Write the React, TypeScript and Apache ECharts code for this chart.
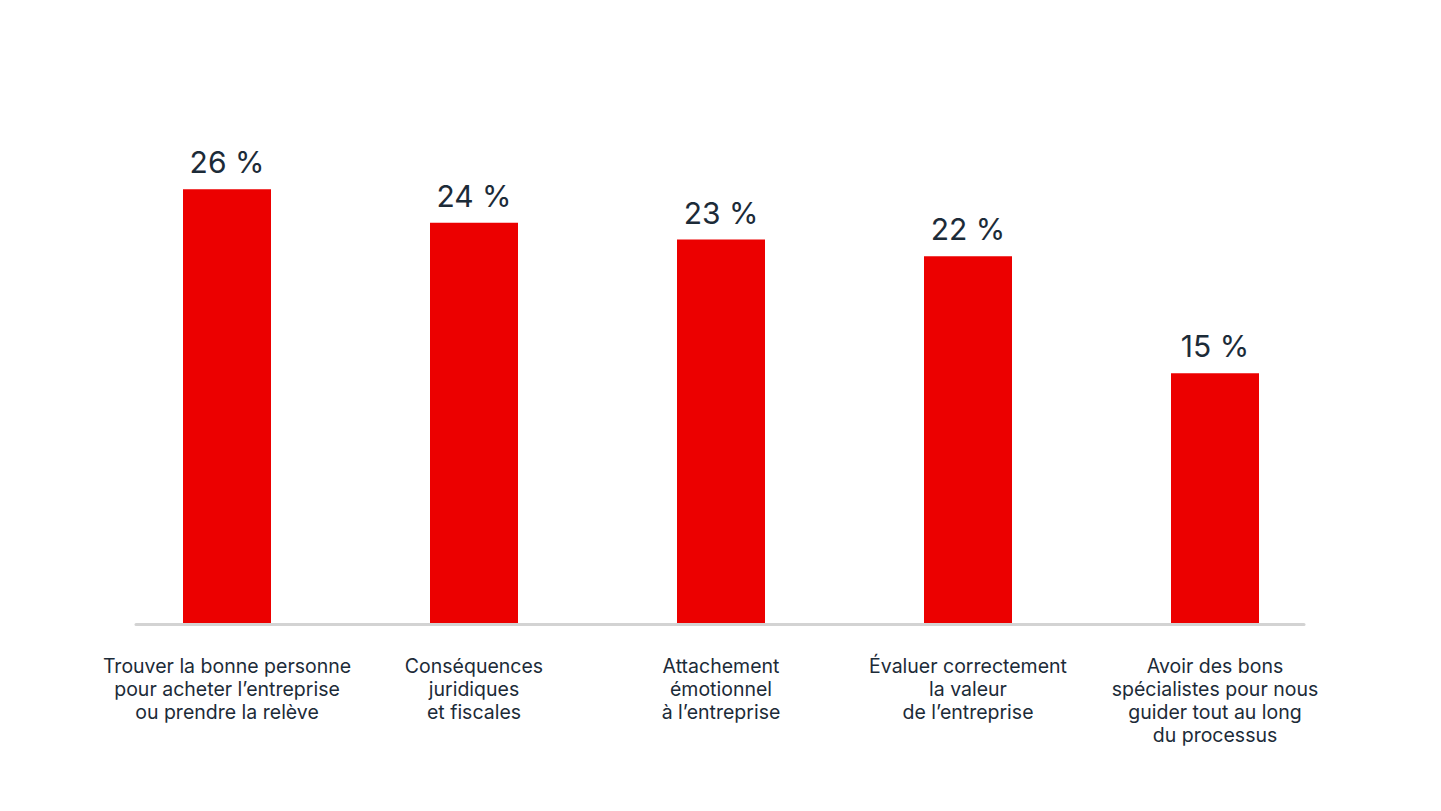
import React, { useEffect, useRef } from "react";
import * as echarts from "echarts";

const categories = [
  "Trouver la bonne personne\npour acheter l’entreprise\nou prendre la relève",
  "Conséquences\njuridiques\net fiscales",
  "Attachement\némotionnel\nà l’entreprise",
  "Évaluer correctement\nla valeur\nde l’entreprise",
  "Avoir des bons\nspécialistes pour nous\nguider tout au long\ndu processus",
];
const values = [26, 24, 23, 22, 15];

const TEXT = "#1c2b38";
const RED = "#ec0000";
const FONT = "Inter, 'Noto Sans', sans-serif";

export default function App() {
  const ref = useRef<HTMLDivElement>(null);
  useEffect(() => {
    if (!ref.current) return;
    const chart = echarts.init(ref.current, null, { renderer: "svg" });
    chart.setOption({
      animation: false,
      backgroundColor: "#ffffff",
      grid: { left: 103.5, width: 1235, top: 122.5, bottom: 187 },
      xAxis: {
        type: "category",
        data: categories,
        axisLine: { show: false },
        axisTick: { show: false },
        axisLabel: {
          interval: 0,
          margin: 30,
          color: TEXT,
          fontFamily: FONT,
          fontSize: 19.5,
          lineHeight: 23,
          align: "center",
        },
      },
      yAxis: {
        type: "value",
        min: 0,
        max: 30,
        show: false,
        splitLine: { show: false },
      },
      graphic: [
        {
          type: "line",
          shape: { x1: 136, y1: 624.5, x2: 1304, y2: 624.5 },
          style: { stroke: "#d3d3d3", lineWidth: 3, lineCap: "round" },
          z: 10,
        },
      ],
      series: [
        {
          type: "bar",
          data: values,
          barWidth: 88,
          itemStyle: { color: RED },
          label: {
            show: true,
            position: "top",
            distance: 12,
            formatter: (p: any) => `${p.value} %`,
            color: TEXT,
            fontFamily: FONT,
            fontSize: 30,
          },
        },
      ],
    });
    return () => chart.dispose();
  }, []);
  return (
    <div
      ref={ref}
      style={{ position: "fixed", left: 0, top: 0, width: 1441, height: 811 }}
    />
  );
}
